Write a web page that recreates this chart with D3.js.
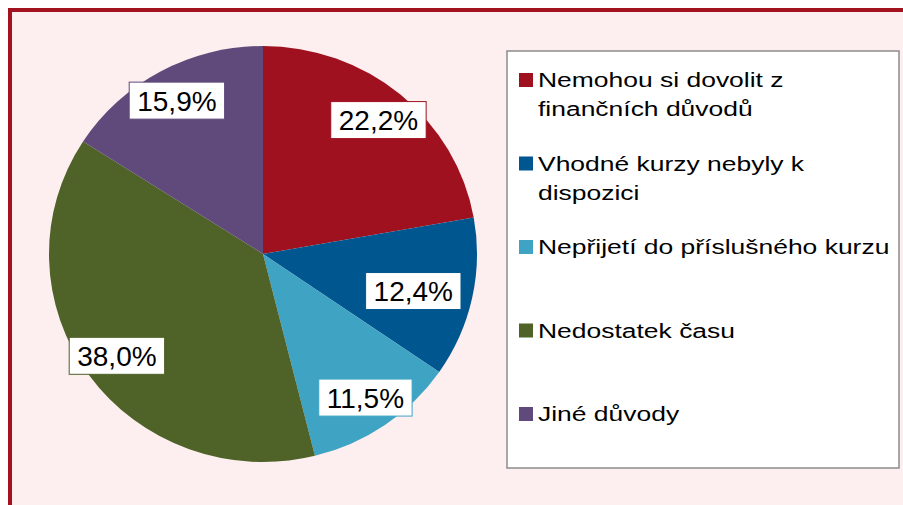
<!DOCTYPE html>
<html>
<head>
<meta charset="utf-8">
<script src="https://cdn.jsdelivr.net/npm/d3@7/dist/d3.min.js"></script>
<style>
  html, body { margin: 0; padding: 0; background: #ffffff; }
  svg { display: block; }
</style>
</head>
<body>
<svg id="chart" width="903" height="505"></svg>
<script>
// ---- data ----
const categories = [
  "Nemohou si dovolit z finančních důvodů",
  "Vhodné kurzy nebyly k dispozici",
  "Nepřijetí do příslušného kurzu",
  "Nedostatek času",
  "Jiné důvody"
];
const values = [22.2, 12.4, 11.5, 38.0, 15.9];
const valueLabels = ["22,2%", "12,4%", "11,5%", "38,0%", "15,9%"];
const colors = ["#a0111f", "#00568f", "#3fa3c4", "#4f6228", "#604a7b"];

// ---- layout ----
const W = 903, H = 505;
const cx = 263, cy = 254;
const Ry = 208, Rx = 214;           // slightly stretched pie (as in the picture)
const sx = Rx / Ry;
const labelR = 0.84;
const legendStretch = 1.26;         // horizontally stretched legend font
const font = "'Liberation Sans', Arial, sans-serif";

const svg = d3.select("#chart");

// white outer, pink panel with dark red frame
svg.append("rect").attr("x", 0).attr("y", 0).attr("width", W).attr("height", H).attr("fill", "#ffffff");
svg.append("rect")
  .attr("x", 10).attr("y", 10).attr("width", W + 20).attr("height", H + 20)
  .attr("fill", "#fdeeef").attr("stroke", "#a3121f").attr("stroke-width", 4);

// ---- pie ----
const pie = d3.pie().sort(null).value(d => d)(values);
const arc = d3.arc().innerRadius(0).outerRadius(Ry);
const labelArc = d3.arc().innerRadius(Ry * labelR).outerRadius(Ry * labelR);

const g = svg.append("g").attr("transform", `translate(${cx},${cy})`);
g.append("g").attr("transform", `scale(${sx},1)`)
  .selectAll("path").data(pie).join("path")
  .attr("d", arc)
  .attr("fill", (d, i) => colors[i]);

// labels
const fs = 28;
const padX = 8, boxH = 37;
pie.forEach((d, i) => {
  const c = labelArc.centroid(d);
  let x = c[0] * sx, y = c[1];
  const lg = g.append("g");
  const rect = lg.append("rect");
  const t = lg.append("text")
    .attr("font-family", font).attr("font-size", fs).attr("fill", "#000")
    .attr("text-anchor", "middle")
    .text(valueLabels[i]);
  const tw = t.node().getComputedTextLength();
  const bw = tw + 2 * padX;
  // keep the label inside the pie's horizontal extent
  const margin = 16;
  const maxX = Rx - margin - bw / 2, minX = -Rx + margin + bw / 2;
  x = Math.max(minX, Math.min(maxX, x));
  rect.attr("x", x - bw / 2).attr("y", y - boxH / 2)
    .attr("width", bw).attr("height", boxH)
    .attr("fill", "#ffffff").attr("stroke", colors[i]).attr("stroke-width", 1);
  t.attr("x", x).attr("y", y + fs * 0.36);
});

// ---- legend ----
const lgX = 507, lgY = 51, lgW = 392, lgH = 417;
svg.append("rect").attr("x", lgX).attr("y", lgY).attr("width", lgW).attr("height", lgH)
  .attr("fill", "#ffffff").attr("stroke", "#8c8c8c").attr("stroke-width", 1.5);

const legFs = 21;
const firstBase = 87, itemStep = 83.5, lineStep = 29;
const textX = 538, sqX = 519, sq = 14;
const maxTextW = 356;

categories.forEach((name, i) => {
  const base = firstBase + i * itemStep;
  svg.append("rect").attr("x", sqX).attr("y", base - sq).attr("width", sq).attr("height", sq)
    .attr("fill", colors[i]);
  // word wrap
  const words = name.split(" ");
  const lines = [];
  let cur = "";
  const probe = svg.append("text").attr("font-family", font).attr("font-size", legFs);
  words.forEach(w => {
    const test = cur ? cur + " " + w : w;
    probe.text(test);
    if (probe.node().getComputedTextLength() * legendStretch > maxTextW && cur) {
      lines.push(cur); cur = w;
    } else cur = test;
  });
  lines.push(cur);
  probe.remove();
  lines.forEach((ln, j) => {
    svg.append("text")
      .attr("transform", `translate(${textX},${base + j * lineStep}) scale(${legendStretch},1)`)
      .attr("font-family", font).attr("font-size", legFs).attr("fill", "#000")
      .text(ln);
  });
});
</script>
</body>
</html>
